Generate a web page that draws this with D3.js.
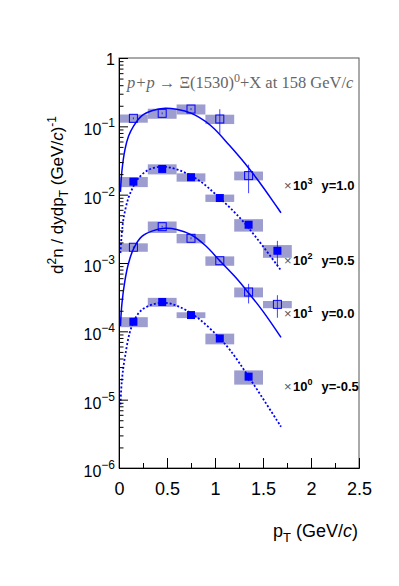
<!DOCTYPE html>
<html>
<head>
<meta charset="utf-8">
<script src="https://cdn.jsdelivr.net/npm/d3@7"></script>
<style>
  body { margin: 0; background: #fff; }
  svg { display: block; }
</style>
</head>
<body>
<div id="chart"></div>
<script>
// bin centres and half width (GeV/c)
const ptBins = [0.15, 0.45, 0.75, 1.05, 1.35, 1.65];
const binHalf = 0.15;

// y = 1.0 (x10^3), open squares
const yA = [0.131, 0.155, 0.179, 0.128, 0.019];
const yASys = [0.018, 0.026, 0.030, 0.020, 0.0028];
const yAStat = [0.004, 0.005, 0.006, 0.05, 0.0085];
// y = 0.5 (x10^2), filled squares
const yB = [0.0155, 0.0238, 0.0180, 0.00893, 0.00363, 0.00151];
const yBSys = [0.0026, 0.004, 0.0025, 0.0011, 0.00075, 0.00032];
const yBStat = [0.0005, 0.0008, 0.0006, 0.0004, 0.0005, 0.0006];
// y = 0.0 (x10^1), open squares
const yC = [0.0017, 0.0034, 0.0023, 0.00108, 0.000376, 0.000248];
const yCSys = [0.00024, 0.00065, 0.00036, 0.00017, 0.000062, 0.00003];
const yCStat = [0.00005, 0.0001, 0.00008, 0.00004, 0.00012, 0.00009];
// y = -0.5 (x10^0), filled squares
const yD = [0.000138, 0.000269, 0.000173, 0.0000785, 0.0000217];
const yDSys = [0.000023, 0.00004, 0.000017, 0.000014, 0.0000051];
const yDStat = [0.000005, 0.000008, 0.000006, 0.000004, 0.000003];

// fit curves
const fitAPt = [0.015, 0.03, 0.0625, 0.1, 0.15, 0.236, 0.35, 0.48, 0.6, 0.756, 0.9, 1.0, 1.15, 1.3, 1.45, 1.6875];
const fitAVal = [0.011, 0.022, 0.046, 0.072, 0.1, 0.142, 0.17, 0.184, 0.178, 0.155, 0.118, 0.090, 0.0527, 0.030, 0.0161, 0.00544];
const fitBPt = [0.015, 0.03, 0.05, 0.097, 0.15, 0.201, 0.305, 0.444, 0.618, 0.826, 1.034, 1.295, 1.6875];
const fitBVal = [0.0014, 0.0028, 0.0047, 0.00885, 0.0132, 0.01735, 0.0230, 0.0257, 0.0230, 0.0164, 0.00933, 0.00402, 0.00078];
const fitCPt = [0.015, 0.03, 0.0625, 0.1, 0.15, 0.236, 0.35, 0.48, 0.6, 0.756, 0.9, 1.05, 1.2, 1.35, 1.5, 1.6875];
const fitCVal = [0.00012, 0.00025, 0.00056, 0.001, 0.0016, 0.00243, 0.00295, 0.00322, 0.0031, 0.00257, 0.0018, 0.00108, 0.00065, 0.000365, 0.000196, 0.0000817];
const fitDPt = [0.015, 0.03, 0.0625, 0.132, 0.236, 0.444, 0.618, 0.826, 1.034, 1.156, 1.35, 1.6875];
const fitDVal = [0.0000085, 0.000019, 0.0000426, 0.000117, 0.000205, 0.000262, 0.000232, 0.000155, 0.0000834, 0.0000533, 0.0000217, 0.00000402];

const yTicks = [1e-6, 1e-5, 1e-4, 1e-3, 1e-2, 1e-1, 1];
const xTicks = [0, 0.5, 1, 1.5, 2, 2.5];
const xMinor = [0.25, 0.75, 1.25, 1.75, 2.25];

const rapLabels = ["y=1.0", "y=0.5", "y=0.0", "y=-0.5"];
const rapScale = ["3", "2", "1", "0"];
const rapLabelVal = [0.01384, 0.001106, 0.0001836, 0.0000158];

const width = 399, height = 586;
const margin = {top: 58, right: 40, bottom: 118, left: 119};
const plotW = width - margin.left - margin.right;
const plotH = height - margin.top - margin.bottom;

const svg = d3.select("#chart").append("svg")
    .attr("width", width)
    .attr("height", height);

const xScale = d3.scaleLinear().domain([0, 2.5]).range([margin.left, margin.left + plotW]);
const yScale = d3.scaleLog().domain([1e-6, 1]).range([margin.top + plotH, margin.top]);

const boxColour = "#9d9dcf";
const blue = "#0000ff";

const series = [
    {vals: yA, sys: yASys, stat: yAStat, open: true},
    {vals: yB, sys: yBSys, stat: yBStat, open: false},
    {vals: yC, sys: yCSys, stat: yCStat, open: true},
    {vals: yD, sys: yDSys, stat: yDStat, open: false}
];

// frame (top / right)
svg.append("rect")
    .attr("x", margin.left)
    .attr("y", margin.top)
    .attr("width", plotW)
    .attr("height", plotH)
    .attr("fill", "none")
    .attr("stroke", "#555")
    .attr("stroke-width", 1);

// systematic boxes
series.forEach(s => {
    svg.append("g").selectAll("rect")
        .data(s.vals.map((v, i) => ({pt: ptBins[i], v: v, sys: s.sys[i]})))
        .join("rect")
        .attr("x", d => xScale(d.pt - binHalf))
        .attr("width", d => xScale(d.pt + binHalf) - xScale(d.pt - binHalf))
        .attr("y", d => yScale(d.v + d.sys))
        .attr("height", d => yScale(d.v - d.sys) - yScale(d.v + d.sys))
        .attr("fill", boxColour);
});

// fit curves
const line = d3.line()
    .x(d => xScale(d[0]))
    .y(d => yScale(d[1]))
    .curve(d3.curveCatmullRom.alpha(0.5));

const fits = [
    {pt: fitAPt, v: fitAVal, dash: null},
    {pt: fitBPt, v: fitBVal, dash: "2,2"},
    {pt: fitCPt, v: fitCVal, dash: null},
    {pt: fitDPt, v: fitDVal, dash: "2,2"}
];
fits.forEach(f => {
    svg.append("path")
        .datum(f.pt.map((p, i) => [p, f.v[i]]))
        .attr("d", line)
        .attr("fill", "none")
        .attr("stroke", blue)
        .attr("stroke-width", f.dash ? 1.8 : 1.5)
        .attr("stroke-dasharray", f.dash);
});

// stat error bars and markers
series.forEach(s => {
    const pts = s.vals.map((v, i) => ({pt: ptBins[i], v: v, stat: s.stat[i]}));
    const g = svg.append("g");
    g.selectAll("line")
        .data(pts)
        .join("line")
        .attr("x1", d => xScale(d.pt))
        .attr("x2", d => xScale(d.pt))
        .attr("y1", d => yScale(d.v + d.stat))
        .attr("y2", d => yScale(Math.max(d.v - d.stat, 1e-7)))
        .attr("stroke", blue)
        .attr("stroke-opacity", 0.75)
        .attr("stroke-width", 1);
    const sz = 8;
    g.selectAll("rect")
        .data(pts)
        .join("rect")
        .attr("x", d => xScale(d.pt) - sz / 2)
        .attr("y", d => yScale(d.v) - sz / 2)
        .attr("width", sz)
        .attr("height", sz)
        .attr("fill", s.open ? "none" : blue)
        .attr("stroke", s.open ? blue : "none")
        .attr("stroke-width", 1);
});

// axes (ticks pointing inward, ROOT style)
const xAxis = svg.append("g")
    .attr("transform", `translate(0,${margin.top + plotH})`)
    .call(d3.axisBottom(xScale).tickValues(xTicks).tickSizeInner(-10).tickSizeOuter(0).tickPadding(14)
        .tickFormat(d => d));
xAxis.selectAll("text")
    .attr("font-family", "Liberation Sans, Arial, sans-serif")
    .attr("font-size", 18)
    .attr("fill", "#000");
svg.append("g")
    .attr("transform", `translate(0,${margin.top + plotH})`)
    .call(d3.axisBottom(xScale).tickValues(xMinor).tickSizeInner(-5).tickSizeOuter(0).tickFormat(""));

const minorY = [];
yTicks.slice(0, -1).forEach(t => { for (let k = 2; k <= 9; k++) minorY.push(t * k); });

svg.append("g")
    .attr("transform", `translate(${margin.left},0)`)
    .call(d3.axisLeft(yScale).tickValues(yTicks).tickSizeInner(-9).tickSizeOuter(0).tickFormat(""));
svg.append("g")
    .attr("transform", `translate(${margin.left},0)`)
    .call(d3.axisLeft(yScale).tickValues(minorY).tickSizeInner(-4.5).tickSizeOuter(0).tickFormat(""));
svg.selectAll(".domain").attr("stroke", "#000");

// y tick labels with superscripts
const yLab = svg.append("g")
    .attr("font-family", "Liberation Sans, Arial, sans-serif")
    .attr("fill", "#000")
    .attr("text-anchor", "end");
yTicks.forEach(t => {
    const e = Math.round(Math.log10(t));
    const txt = yLab.append("text")
        .attr("x", margin.left - 4)
        .attr("y", yScale(t) + 9)
        .attr("font-size", 16);
    if (e === 0) {
        txt.attr("y", yScale(t) + 7).text("1");
    } else {
        txt.append("tspan").text("10");
        txt.append("tspan").attr("font-size", 12).attr("dy", -8).text("\u2212" + Math.abs(e));
    }
});

// title
const title = svg.append("text")
    .attr("x", 127)
    .attr("y", 88)
    .attr("font-family", "Liberation Serif, Times New Roman, serif")
    .attr("font-size", 16.5)
    .attr("fill", "#666");
title.append("tspan").attr("font-style", "italic").text("p+p");
title.append("tspan").text(" \u2192 \u039E(1530)");
title.append("tspan").attr("font-size", 12).attr("dy", -6).text("0");
title.append("tspan").attr("dy", 6).text("+X at 158 GeV/");
title.append("tspan").attr("font-style", "italic").text("c");

// y axis title
const yt = svg.append("text")
    .attr("transform", "translate(63,195) rotate(-90)")
    .attr("text-anchor", "middle")
    .attr("font-family", "Liberation Sans, Arial, sans-serif")
    .attr("font-size", 17)
    .attr("fill", "#000");
yt.append("tspan").text("d");
yt.append("tspan").attr("font-size", 12).attr("dy", -7).text("2");
yt.append("tspan").attr("dy", 7).text("n / dydp");
yt.append("tspan").attr("font-size", 12).attr("dy", 5).text("T");
yt.append("tspan").attr("dy", -5).text(" (GeV/");
yt.append("tspan").attr("font-style", "italic").text("c");
yt.append("tspan").text(")");
yt.append("tspan").attr("font-size", 12).attr("dy", -7).text("-1");

// x axis title
const xt = svg.append("text")
    .attr("x", 358)
    .attr("y", 537)
    .attr("text-anchor", "end")
    .attr("font-family", "Liberation Sans, Arial, sans-serif")
    .attr("font-size", 18)
    .attr("fill", "#000");
xt.append("tspan").text("p");
xt.append("tspan").attr("font-size", 13).attr("dy", 5).text("T");
xt.append("tspan").attr("dy", -5).text(" (GeV/");
xt.append("tspan").attr("font-style", "italic").text("c");
xt.append("tspan").text(")");

// rapidity labels
rapLabels.forEach((lab, i) => {
    const base = yScale(rapLabelVal[i]) + 5;
    const t = svg.append("text")
        .attr("y", base)
        .attr("font-family", "Liberation Sans, Arial, sans-serif")
        .attr("font-size", 13)
        .attr("fill", "#000");
    t.append("tspan").attr("x", 284).attr("fill", "#555").attr("font-size", 13).text("\u00D7");
    t.append("tspan").attr("x", 293).attr("font-weight", "bold").text("10");
    t.append("tspan").attr("font-weight", "bold").attr("font-size", 9).attr("dy", -6).text(rapScale[i]);
    t.append("tspan").attr("x", 321.5).attr("y", base).attr("font-weight", "bold").text(lab);
});
</script>
</body>
</html>
